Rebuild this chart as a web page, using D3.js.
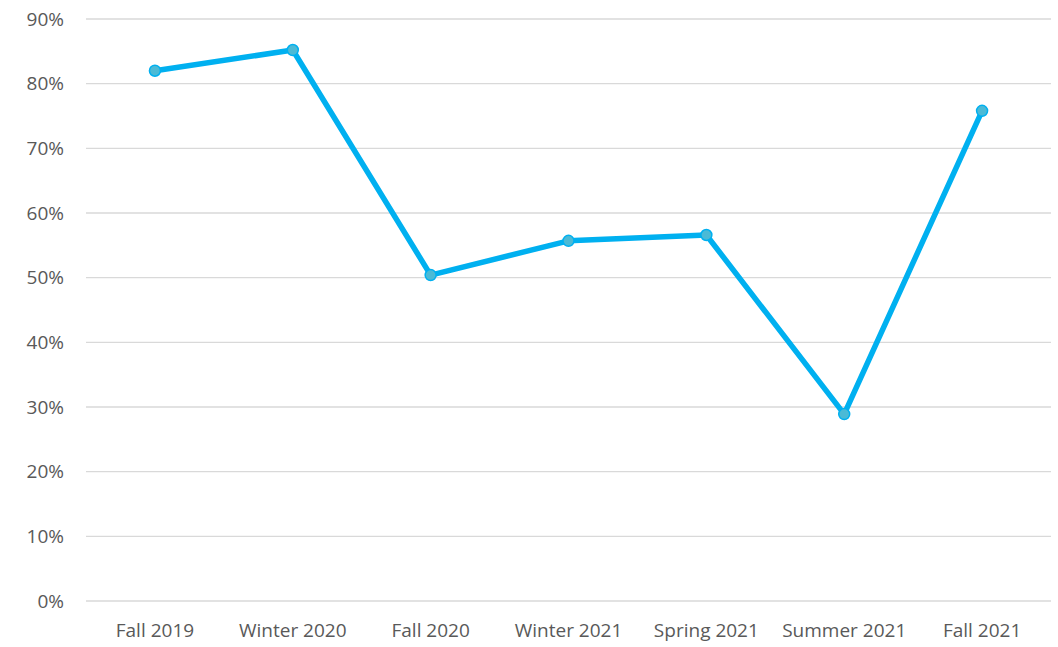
<!DOCTYPE html>
<html>
<head>
<meta charset="utf-8">
<script src="https://cdn.jsdelivr.net/npm/d3@7"></script>
<style>
  body { margin: 0; background: #fff; }
  svg { display: block; }
  .tick text { font-family: "Open Sans", "Liberation Sans", sans-serif; fill: #595959; }
</style>
</head>
<body>
<svg id="chart" width="1058" height="647"></svg>
<script>
const categories = ["Fall 2019", "Winter 2020", "Fall 2020", "Winter 2021", "Spring 2021", "Summer 2021", "Fall 2021"];
const values = [0.82, 0.852, 0.504, 0.557, 0.566, 0.289, 0.758];
const yTicks = [0, 0.1, 0.2, 0.3, 0.4, 0.5, 0.6, 0.7, 0.8, 0.9];

const svg = d3.select("#chart");
const margin = { left: 86, right: 7, top: 19, bottom: 46 };
const W = 1058, H = 647;

const x = d3.scaleBand().domain(categories).range([margin.left, W - margin.right]);
const y = d3.scaleLinear().domain([0, 0.9]).range([H - margin.bottom, margin.top]);

// gridlines
svg.append("g").selectAll("line").data(yTicks).join("line")
  .attr("x1", margin.left).attr("x2", W - margin.right)
  .attr("y1", d => y(d)).attr("y2", d => y(d))
  .attr("stroke", "#d9d9d9").attr("stroke-width", 1.3);

// y axis
const yAxis = svg.append("g").attr("transform", `translate(${margin.left},0)`)
  .call(d3.axisLeft(y).tickValues(yTicks).tickFormat(d3.format(".0%")).tickSize(0).tickPadding(22));
yAxis.select(".domain").remove();
yAxis.selectAll("text").style("font-size", "19px");

// x axis
const xAxis = svg.append("g").attr("transform", `translate(0,${H - margin.bottom})`)
  .call(d3.axisBottom(x).tickSize(0).tickPadding(23));
xAxis.select(".domain").remove();
xAxis.selectAll("text").style("font-size", "19px");

// line
const line = d3.line().x((d, i) => x(categories[i]) + x.bandwidth() / 2).y(d => y(d));
svg.append("path").datum(values)
  .attr("d", line).attr("fill", "none")
  .attr("stroke", "#00b0f0").attr("stroke-width", 5.5).attr("stroke-linejoin", "round");

// markers
svg.append("g").selectAll("circle").data(values).join("circle")
  .attr("cx", (d, i) => x(categories[i]) + x.bandwidth() / 2)
  .attr("cy", d => y(d))
  .attr("r", 5.5)
  .attr("fill", "#4bbad6").attr("stroke", "#00b0f0").attr("stroke-width", 1.5);
</script>
</body>
</html>
